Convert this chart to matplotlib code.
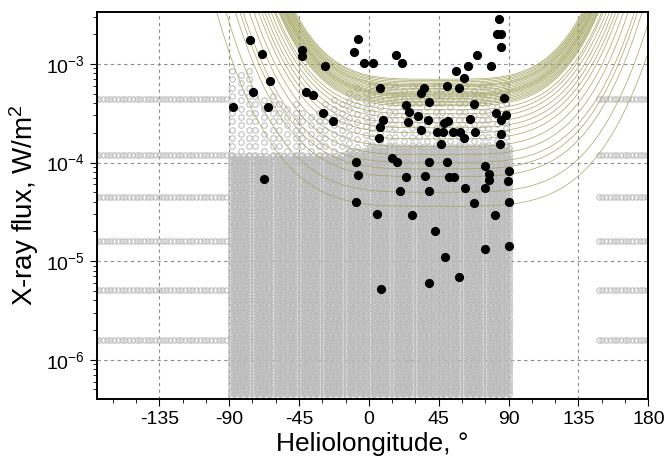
import numpy as np
import matplotlib
matplotlib.use('Agg')
import matplotlib.pyplot as plt
from matplotlib.ticker import FixedLocator, LogLocator, NullFormatter

plt.rcParams['font.family'] = ['Liberation Sans', 'DejaVu Sans']
plt.rcParams['axes.unicode_minus'] = False

# flares with SEP events: heliolongitude (deg) and peak X-ray flux (W/m2)
flare_lon = [-76.5, -68.8, -43.1, -43.1, -28.3, -63.6, -74.6, -40.5, -36.0, -87.4,
             -64.9, -7.1, -9.6, -3.2, 2.6, 17.4, 21.2, 7.1, 83.6, 82.3,
             84.9, 84.9, 69.4, 78.4, 63.6, 55.9, 61.1, 50.1, 57.9, 35.4,
             33.4, 38.6, 86.8, 67.5, 23.8, 25.7, -29.6, -23.1, -67.5, -8.4,
             -7.1, -8.4, 9.0, 7.1, 25.1, 31.5, 37.9, 33.4, 50.8, 48.2,
             64.9, 81.6, 84.9, 88.1, 6.4, 43.7, 47.6, 54.0, 58.5, 61.1,
             68.1, 46.3, 84.9, 84.2, 14.8, 18.0, 38.6, 50.1, 74.6, 90.0,
             23.8, 36.0, 51.4, 54.6, 77.1, 77.1, 89.4, 19.9, 38.6, 61.7,
             74.6, 67.5, 90.0, 5.1, 27.6, 81.0, 42.4, 90.0, 74.6, 48.9,
             57.9, 38.6, 7.7]
flare_flux = [1.75e-3, 1.26e-3, 1.39e-3, 1.21e-3, 9.5e-4, 6.7e-4, 5.2e-4, 5.2e-4, 4.85e-4, 3.66e-4,
              3.66e-4, 1.79e-3, 1.32e-3, 1.02e-3, 1.02e-3, 1.23e-3, 1.02e-3, 5.7e-4, 2.86e-3, 2.01e-3,
              2.01e-3, 1.49e-3, 1.23e-3, 9.5e-4, 9.5e-4, 8.5e-4, 7.2e-4, 5.98e-4, 5.7e-4, 5.7e-4,
              5.08e-4, 4.12e-4, 4.53e-4, 3.93e-4, 3.85e-4, 3.27e-4, 3.19e-4, 2.64e-4, 6.84e-5, 1.02e-4,
              7.5e-5, 4.0e-5, 2.71e-4, 2.30e-4, 2.58e-4, 2.97e-4, 2.71e-4, 2.14e-4, 2.64e-4, 2.52e-4,
              2.77e-4, 3.19e-4, 2.71e-4, 3.04e-4, 1.78e-4, 2.05e-4, 2.05e-4, 2.05e-4, 2.05e-4, 1.78e-4,
              2.05e-4, 1.55e-4, 1.95e-4, 1.55e-4, 1.12e-4, 1.02e-4, 1.02e-4, 1.02e-4, 9.3e-5, 8.2e-5,
              7.2e-5, 7.3e-5, 7.2e-5, 7.2e-5, 7.7e-5, 6.7e-5, 6.5e-5, 5.2e-5, 5.2e-5, 5.5e-5,
              5.5e-5, 3.9e-5, 4.0e-5, 3.0e-5, 2.95e-5, 2.95e-5, 2.03e-5, 1.43e-5, 1.34e-5, 1.11e-5,
              6.95e-6, 6.0e-6, 5.25e-6]

# all flares (grey background): extent per 15 deg longitude bin
cloud_bins = [-90, -75, -60, -45, -30, -15, 0, 15, 30, 45, 60, 75, 90]
cloud_dense_top = [1.2e-4, 1.2e-4, 1.2e-4, 1.2e-4, 1.2e-4, 1.3e-4,
                   1.5e-4, 1.5e-4, 1.5e-4, 1.5e-4, 1.5e-4, 1.5e-4]
cloud_sparse_top = [9.0e-4, 5.0e-4, 4.0e-4, 3.5e-4, 4.5e-4, 6.0e-4,
                    6.0e-4, 6.0e-4, 6.0e-4, 6.0e-4, 6.0e-4, 6.0e-4]
cloud_bottom = 4.3e-7

# rows of behind-limb events
row_flux = [4.4e-4, 1.2e-4, 4.5e-5, 1.6e-5, 5.1e-6, 1.6e-6]
row_left = (-176, -91)
row_right = (148, 180)

# model threshold curves: flat level and half width (deg) at top of plot
curve_level = [3.6e-5, 5.0e-5, 7.2e-5, 8.6e-5, 1.0e-4, 1.2e-4, 1.45e-4, 1.74e-4, 2.0e-4,
               2.25e-4, 2.53e-4, 2.84e-4, 3.12e-4, 3.43e-4, 3.76e-4, 3.9e-4, 4.03e-4,
               4.17e-4, 4.32e-4, 4.47e-4, 4.63e-4, 4.74e-4, 4.85e-4, 4.96e-4, 5.08e-4,
               5.26e-4, 5.45e-4, 5.65e-4, 5.85e-4, 5.99e-4, 6.13e-4, 6.35e-4, 6.57e-4,
               6.8e-4, 7.0e-4]
curve_halfwidth = [143, 137, 131, 128, 126, 122, 119, 116, 114, 112, 110, 108, 106,
                   105, 103, 102.5, 102, 101.3, 101, 100.1, 100, 99.1, 99, 98.3, 98,
                   97.4, 97, 96.2, 96, 95.2, 95, 94.2, 94, 93.2, 92.5]
curve_center = 45
flux_top = 3.36e-3

fig = plt.figure(figsize=(6.65, 4.62), dpi=100)
ax = fig.add_axes([0.146, 0.137, 0.829, 0.837])
ax.set_yscale('log')

grey = '#bababa'


# background cloud as a staggered lattice of open circles
def lattice(lo, hi, f_lo, f_hi, dlon, dlog):
    xs, ys = [], []
    cols = np.arange(lo, hi + 1e-9, dlon)
    for i, x in enumerate(cols):
        off = dlog / 2 if i % 2 else 0
        lg = np.arange(np.log10(f_lo) + off, np.log10(f_hi), dlog)
        xs.extend([x] * len(lg))
        ys.extend(10 ** lg)
    return xs, ys


cx, cy = [], []
sx, sy = [], []
for k in range(len(cloud_bins) - 1):
    x0, x1 = cloud_bins[k], cloud_bins[k + 1]
    a, b = lattice(x0 + 1, x1 - 1 if k < len(cloud_bins) - 2 else x1, cloud_bottom,
                   cloud_dense_top[k], 2.0, 0.032)
    cx += a; cy += b
    a, b = lattice(x0 + 2, x1 - 2, cloud_dense_top[k], cloud_sparse_top[k], 5.5, 0.085)
    sx += a; sy += b
ax.plot(cx, cy, 'o', ms=4.0, mfc='none', mec=grey, mew=0.75, zorder=1)
ax.plot(sx, sy, 'o', ms=4.0, mfc='none', mec=grey, mew=0.75, zorder=1)

for f in row_flux:
    for lo, hi in (row_left, row_right):
        xs = np.arange(lo, hi + 0.1, 2.4)
        ax.plot(xs, [f] * len(xs), 'o', ms=3.8, mfc='none', mec=grey, mew=0.75, zorder=1)

# threshold curves
xc = np.linspace(-175, 180, 600)
for lev, w in zip(curve_level, curve_halfwidth):
    lg = np.log10(lev) + (np.log10(flux_top) - np.log10(lev)) * ((xc - curve_center) / w) ** 4
    ax.plot(xc, 10 ** lg, color='#a4a462', lw=0.5, zorder=2)

ax.plot(flare_lon, flare_flux, 'o', ms=5.6, color='black', zorder=3)

ax.set_xlim(-175, 180)
ax.set_ylim(4.03e-7, flux_top)

ax.xaxis.set_major_locator(FixedLocator([-135, -90, -45, 0, 45, 90, 135, 180]))
ax.xaxis.set_minor_locator(FixedLocator(np.arange(-165, 181, 15)))
ax.yaxis.set_major_locator(LogLocator(base=10, numticks=10))
ax.yaxis.set_minor_locator(LogLocator(base=10, subs=np.arange(2, 10), numticks=10))
ax.yaxis.set_minor_formatter(NullFormatter())

ax.tick_params(axis='both', which='major', labelsize=14, direction='out', length=5, width=0.8)
ax.tick_params(axis='both', which='minor', direction='out', length=3, width=0.6)
ax.tick_params(top=False, right=False)

ax.set_axisbelow(True)
ax.grid(True, which='major', linestyle=(0, (3, 3)), color='#8c8c8c', lw=0.8)
for s in ax.spines.values():
    s.set_linewidth(1.4)

ax.set_xlabel('Heliolongitude, °', fontsize=19, labelpad=3)
ax.set_ylabel('X-ray flux, W/m$\\mathdefault{^2}$', fontsize=20, labelpad=4)

fig.savefig('out.png', dpi=100)
